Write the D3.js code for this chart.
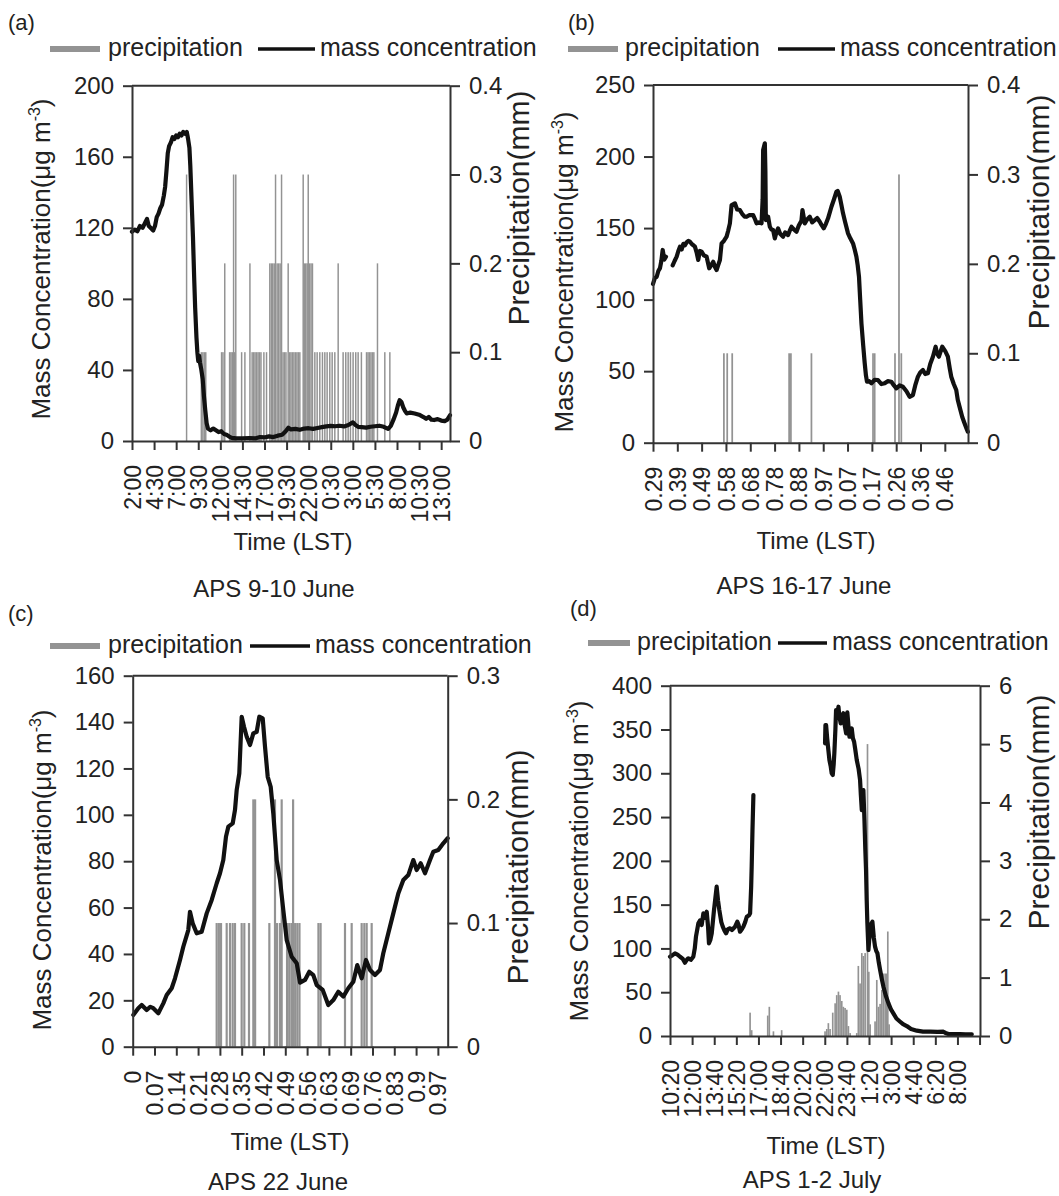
<!DOCTYPE html>
<html>
<head>
<meta charset="utf-8">
<script src="https://cdn.jsdelivr.net/npm/d3@7"></script>
<style>
  body { margin: 0; background: #fff; }
  svg text { font-family: "Liberation Sans", Arial, Helvetica, sans-serif; fill: #222; }
</style>
</head>
<body>
<svg id="chart" width="1059" height="1196"></svg>
<script>
// ---------- (a) APS 9-10 June : time in hours from 9 June 00:00 ----------
const aTicks = [2, 4.5, 7, 9.5, 12, 14.5, 17, 19.5, 22, 24.5, 27, 29.5, 32, 34.5, 37];
const aTickLabels = ["2:00","4:30","7:00","9:30","12:00","14:30","17:00","19:30","22:00","0:30","3:00","5:30","8:00","10:30","13:00"];
const aMassTicks = [0, 40, 80, 120, 160, 200];
const aRainTicks = [0, 0.1, 0.2, 0.3, 0.4];
const aRainTickLabels = ["0","0.1","0.2","0.3","0.4"];
const aMassTime = [2.0,2.3,2.6,2.9,3.2,3.5,3.7,3.9,4.1,4.4,4.6,4.8,5.0,5.2,5.4,5.6,5.75,5.9,6.05,6.2,6.4,6.6,6.8,7.0,7.2,7.4,7.6,7.8,8.0,8.2,8.35,8.5,8.6,8.75,8.9,9.05,9.15,9.3,9.4,9.5,9.6,9.7,9.85,10.0,10.15,10.3,10.45,10.6,10.9,11.2,11.5,11.8,12.1,12.4,12.7,13.0,13.3,13.8,14.5,15.3,16.0,16.5,17.0,17.5,18.0,18.5,19.0,19.4,19.7,20.0,20.5,21.0,21.5,22.0,22.5,23.0,23.5,24.0,24.5,25.0,25.5,26.0,26.5,27.0,27.3,27.6,28.0,28.5,29.0,29.5,30.0,30.5,31.0,31.3,31.6,31.9,32.1,32.3,32.5,32.7,32.9,33.1,33.5,34.0,34.5,35.0,35.3,35.6,35.9,36.2,36.6,37.0,37.4,37.7,38.0];
const aMass = [117.8,119,118,121,120,123,125,121,120,118.5,121,126,128,131,133,138,143,152,162,166,168,171,170,172,171,173,172,174,173,174,170,165,155,135,115,90,75,58,50,45,48,44,40,35,25,17,10,7,6,7,6,5,5.5,4,3.5,2.5,1.8,1.5,1.5,1.7,1.5,2.2,2.0,2.6,2.2,3.0,3.5,5.5,7.5,6.5,6.8,6.3,7.0,7.2,6.8,7.3,7.8,8.2,8.5,8.3,8.6,8.2,9.0,10.5,9.0,8.0,7.8,7.5,8.0,8.3,8.6,8.0,6.8,8.5,12,16,20,23,22,19,17,15.5,16,15.5,14.8,13.5,12.5,13.5,12,11.8,12.3,11.5,11.2,12,14.5];
const aRainTime = [8.18,9.85,10.02,10.18,10.35,12.14,12.3,12.5,13.05,13.2,13.35,13.5,13.62,13.75,14.41,14.78,15.35,15.6,15.77,15.93,16.1,16.27,16.43,16.6,16.93,17.23,17.6,17.77,17.93,18.1,18.25,18.43,18.6,18.77,18.93,19.1,19.27,19.43,19.68,19.85,20.0,20.17,20.33,20.5,20.67,20.83,21.0,21.38,21.5,21.67,21.83,21.95,22.1,22.27,22.43,22.7,22.96,23.26,23.56,23.83,24.09,24.39,24.66,24.96,25.34,25.9,26.2,26.47,26.73,27.03,27.33,27.6,27.97,28.55,28.72,28.88,29.05,29.22,29.38,29.79,30.62,31.19];
const aRain = [0.3,0.1,0.1,0.1,0.1,0.1,0.1,0.2,0.1,0.1,0.1,0.3,0.1,0.3,0.1,0.1,0.2,0.1,0.1,0.1,0.1,0.1,0.1,0.1,0.1,0.1,0.2,0.2,0.2,0.2,0.3,0.2,0.2,0.2,0.3,0.1,0.1,0.1,0.2,0.1,0.1,0.1,0.1,0.1,0.1,0.1,0.1,0.3,0.2,0.2,0.2,0.3,0.2,0.2,0.2,0.1,0.1,0.1,0.1,0.1,0.1,0.1,0.1,0.1,0.2,0.1,0.1,0.1,0.1,0.1,0.1,0.1,0.1,0.1,0.1,0.1,0.1,0.1,0.1,0.2,0.1,0.1];

// ---------- (b) APS 16-17 June : time as fraction of day (16 June = 0) ----------
const bTicks = [0.2917,0.3889,0.4861,0.5833,0.6806,0.7778,0.875,0.9722,1.0694,1.1667,1.2639,1.3611,1.4583];
const bTickLabels = ["0.29","0.39","0.49","0.58","0.68","0.78","0.88","0.97","0.07","0.17","0.26","0.36","0.46"];
const bMassTicks = [0, 50, 100, 150, 200, 250];
const bRainTicks = [0, 0.1, 0.2, 0.3, 0.4];
const bRainTickLabels = ["0","0.1","0.2","0.3","0.4"];
const bMassTime = [0.2918,0.2990,0.3065,0.3130,0.3196,0.3250,0.3304,0.3370,0.3436,0.3500,0.3703,0.3780,0.3863,0.3930,0.3995,0.4060,0.4130,0.4194,0.4260,0.4330,0.4394,0.4460,0.4530,0.4593,0.4660,0.4726,0.4790,0.4860,0.4950,0.5060,0.5164,0.5240,0.5324,0.5390,0.5459,0.5520,0.5592,0.5659,0.5750,0.5859,0.5920,0.5991,0.6059,0.6191,0.6280,0.6390,0.6480,0.6580,0.6658,0.6760,0.6921,0.7000,0.7057,0.7150,0.7256,0.7300,0.7320,0.7388,0.7410,0.7428,0.7520,0.7588,0.7650,0.7719,0.7787,0.7850,0.7919,0.8000,0.8118,0.8200,0.8317,0.8380,0.8454,0.8550,0.8653,0.8750,0.8850,0.8893,0.8985,0.9080,0.9185,0.9280,0.9384,0.9480,0.9583,0.9660,0.9743,0.9830,0.9915,1.0050,1.0150,1.0250,1.0300,1.0382,1.0450,1.0514,1.0600,1.0714,1.0800,1.0913,1.0980,1.1049,1.1100,1.1152,1.1200,1.1250,1.1320,1.1381,1.1430,1.1472,1.1560,1.1648,1.1780,1.1911,1.2050,1.2179,1.2300,1.2446,1.2550,1.2646,1.2780,1.2909,1.3050,1.3176,1.3308,1.3400,1.3508,1.3600,1.3707,1.3800,1.3907,1.4000,1.4107,1.4215,1.4280,1.4347,1.4420,1.4481,1.4600,1.4706,1.4780,1.4840,1.4940,1.5040,1.5100,1.5171,1.5280,1.5371,1.5450,1.5503];
const bMass = [111,115,116,120,122,127,134.7,128,130,null,124,127,130,134,137,135,139,138,140,141,140.5,139,138,137,133,127.7,134,133.5,131,130,121.9,124,126.5,123,120.7,124,127.7,139.3,141,144,148,153.3,166.1,167.3,163,162.6,160,158,157.9,159,159.1,156,153.3,154,153.3,170,204.5,209.2,190,155.6,157.9,150.9,149,148.6,142.8,147,149.8,146,144,147,145.1,148,150.9,149,147.4,152,155,162.6,153.3,156,157.9,154,155.6,157,154.4,152,149.8,153,156.8,164.9,170,175.4,176,171.9,166,160.3,154,146.3,143,139.3,135,130,124,116,100,83.4,68,55.5,47,42.6,43,41.5,44,43.8,41,41.5,43,42.6,40,38,40,39.1,36,32.1,33.3,40,46.1,49,50.8,48,48.5,55,60.1,67.1,62,60.1,64,67.1,64,60.1,52,46.1,41,36.8,30,25.2,18,13.6,10,7.7];
const bRainTime = [0.5751,0.5884,0.6084,0.8359,0.8430,0.9251,1.1713,1.1779,1.2591,1.2751,1.2844];
const bRain = [0.1,0.1,0.1,0.1,0.1,0.1,0.1,0.1,0.1,0.3,0.1];

// ---------- (c) APS 22 June : time as fraction of day ----------
const cTicks = [0,0.0694,0.1389,0.2083,0.2778,0.3472,0.4167,0.4861,0.5556,0.625,0.6944,0.7639,0.8333,0.9028,0.9722];
const cTickLabels = ["0","0.07","0.14","0.21","0.28","0.35","0.42","0.49","0.56","0.63","0.69","0.76","0.83","0.9","0.97"];
const cMassTicks = [0, 20, 40, 60, 80, 100, 120, 140, 160];
const cRainTicks = [0, 0.1, 0.2, 0.3];
const cRainTickLabels = ["0","0.1","0.2","0.3"];
const cMassTime = [0.0019,0.0178,0.0287,0.0446,0.0560,0.0656,0.0816,0.0975,0.1083,0.1242,0.1348,0.1507,0.1612,0.1771,0.1825,0.1911,0.2039,0.2198,0.2357,0.2517,0.2676,0.2781,0.2886,0.2972,0.3046,0.3186,0.3259,0.3313,0.3396,0.3472,0.3546,0.3632,0.3737,0.3842,0.3950,0.4033,0.4142,0.4215,0.4301,0.4396,0.4479,0.4588,0.4693,0.4798,0.4906,0.5065,0.5225,0.5330,0.5489,0.5626,0.5754,0.5862,0.6053,0.6231,0.6391,0.6550,0.6709,0.6868,0.7028,0.7155,0.7295,0.7432,0.7560,0.7719,0.7878,0.7983,0.8143,0.8302,0.8461,0.8621,0.8780,0.8939,0.9047,0.9175,0.9312,0.9471,0.9576,0.9735,0.9895,1.0035];
const cMass = [13.7,16.6,18.0,15.8,17.2,16.6,14.4,18.7,22.3,25.2,29.5,37.4,43.1,50.3,58.2,53.2,48.9,49.6,57.5,63.3,70.5,74.8,80.5,90.6,94.9,96.3,102.1,110.7,117.9,142.3,138,133.7,130.1,135.1,135.8,142.3,141.6,129.4,116.4,112.1,100.6,80.5,71.9,58.9,46,38.8,36,27.6,28.8,32.3,30.9,26.6,24.5,18,20.1,23.7,21.6,25.2,28,35.2,29.5,37.4,33.1,30.9,33.1,40.3,48.9,57.5,66.1,71.9,74,80.5,76.2,79.1,74.8,80.5,84.1,84.8,87.7,89.9];
const cRainTime = [0.2675,0.2745,0.2814,0.2994,0.3100,0.3185,0.3259,0.3471,0.3556,0.3705,0.3843,0.3900,0.4353,0.4533,0.4600,0.4693,0.4746,0.4917,0.4986,0.5056,0.5110,0.5175,0.5244,0.5313,0.5917,0.5986,0.6763,0.6976,0.7294,0.7379,0.7454,0.7613];
const cRain = [0.1,0.1,0.1,0.1,0.1,0.1,0.1,0.1,0.1,0.1,0.2,0.2,0.1,0.2,0.1,0.1,0.2,0.1,0.1,0.1,0.2,0.1,0.1,0.1,0.1,0.1,0.1,0.1,0.1,0.1,0.1,0.1];

// ---------- (d) APS 1-2 July : time in hours from 1 July 00:00 ----------
const dTicks = [10.333,12,13.667,15.333,17,18.667,20.333,22,23.667,25.333,27,28.667,30.333,32,33.667];
const dTickLabels = ["10:20","12:00","13:40","15:20","17:00","18:40","20:20","22:00","23:40","1:20","3:00","4:40","6:20","8:00",""];
const dMassTicks = [0, 50, 100, 150, 200, 250, 300, 350, 400];
const dRainTicks = [0, 1, 2, 3, 4, 5, 6];
const dRainTickLabels = ["0","1","2","3","4","5","6"];
const dMassTime = [10.333,10.5,10.71,10.9,11.09,11.3,11.46,11.6,11.71,11.9,12.09,12.2,12.29,12.47,12.6,12.72,12.85,13.0,13.1,13.2,13.27,13.38,13.48,13.65,13.85,13.95,14.05,14.2,14.31,14.45,14.56,14.7,14.86,15.0,15.24,15.41,15.5,15.61,15.75,15.86,16.0,16.12,16.3,16.37,16.45,16.49,16.55,16.62,16.7,22.02,22.05,22.1,22.18,22.27,22.35,22.45,22.52,22.6,22.67,22.72,22.8,22.85,22.95,23.03,23.1,23.2,23.3,23.4,23.5,23.61,23.7,23.78,23.86,23.95,24.03,24.12,24.21,24.3,24.41,24.55,24.66,24.72,24.79,24.85,24.91,24.99,25.05,25.11,25.16,25.21,25.29,25.35,25.42,25.5,25.59,25.7,25.79,25.88,25.97,26.07,26.17,26.3,26.42,26.6,26.8,27.0,27.17,27.4,27.68,27.9,28.18,28.5,28.94,29.4,29.94,30.5,30.94,31.1,31.32,31.8,32.2,32.6,33.08];
const dMass = [90.5,92,94.4,93,90.5,88,83.7,87,88.7,87,90.5,100,113.4,128.7,132,126.7,140.1,135,141.9,125,105.8,110,117.3,143.9,170.5,155,143.9,130,124.8,120,117.3,122,123,121,124.8,130.5,127,119.1,122,124.8,130,136.2,138,140.1,170,193.3,235,275.2,null,334.2,355.1,355,340,326.6,315,307.5,300,298,310,322.8,350,372.2,368,376,365,357,366,368.5,355,345.6,369.6,355,341.7,348,351.3,340,336,327,315.1,305,292.3,275,258,272,280.9,246.6,215,189.5,155,128.7,98.2,110,117.3,128,130.5,112,102,97,94.4,84,75.4,65,56.3,46,37.3,30,25.9,20,16.3,13.5,11.4,8,6.1,5,4.9,4.8,4.9,3.5,2.3,2.3,2.3,2.0,1.9];
const dRainTime = [16.37,16.49,17.7,17.82,18.13,18.75,22.02,22.15,22.27,22.4,22.6,22.78,22.9,23.03,23.15,23.28,23.4,23.53,23.66,23.78,23.91,24.41,24.53,24.66,24.79,24.91,25.04,25.22,25.32,25.42,25.79,25.92,26.05,26.17,26.3,26.42,26.55,26.67,26.75,26.85];
const dRain = [0.4,0.1,0.35,0.5,0.08,0.1,0.08,0.12,0.22,0.12,0.4,0.56,0.7,0.76,0.7,0.6,0.5,0.48,0.45,0.17,0.05,0.05,1.2,0.9,1.42,1.37,1.42,5.0,1.1,0.2,0.25,0.96,0.5,0.55,0.79,1.07,1.07,1.07,1.79,0.2];

// ---------- panel layout ----------
const panels = [
  { tag: "(a)", tagPos: [8, 30], title: "APS 9-10 June", titlePos: [274, 597], xTitlePos: [293, 550],
    box: { x0: 132, x1: 450, y0: 85.7, y1: 441 }, xDomain: [2, 38], barW: 1 / 6,
    xTicks: aTicks, xLabels: aTickLabels, massTicks: aMassTicks, massMax: 200,
    rainTicks: aRainTicks, rainLabels: aRainTickLabels, rainMax: 0.4,
    massT: aMassTime, mass: aMass, rainT: aRainTime, rain: aRain,
    yTitle: [50, 259], rTitle: [529, 208],
    legend: { y: 49, gray: [50, 100], grayText: 108, black: [258, 315], blackText: 320 } },
  { tag: "(b)", tagPos: [568, 30], title: "APS 16-17 June", titlePos: [804, 594], xTitlePos: [816, 549],
    box: { x0: 653, x1: 968, y0: 85, y1: 442.7 }, xDomain: [0.2917, 1.551], barW: 1 / 144,
    xTicks: bTicks, xLabels: bTickLabels, massTicks: bMassTicks, massMax: 250,
    rainTicks: bRainTicks, rainLabels: bRainTickLabels, rainMax: 0.4,
    massT: bMassTime, mass: bMass, rainT: bRainTime, rain: bRain,
    yTitle: [573, 272], rTitle: [1049, 212],
    legend: { y: 49, gray: [568, 618], grayText: 625, black: [778, 835], blackText: 840 } },
  { tag: "(c)", tagPos: [8, 621], title: "APS 22 June", titlePos: [278, 1190], xTitlePos: [290, 1150],
    box: { x0: 132.7, x1: 447.7, y0: 675.7, y1: 1046.7 }, xDomain: [0, 1.0035], barW: 1 / 144,
    xTicks: cTicks, xLabels: cTickLabels, massTicks: cMassTicks, massMax: 160,
    rainTicks: cRainTicks, rainLabels: cRainTickLabels, rainMax: 0.3,
    massT: cMassTime, mass: cMass, rainT: cRainTime, rain: cRain,
    yTitle: [51, 870], rTitle: [528, 867],
    legend: { y: 646, gray: [50, 100], grayText: 108, black: [250, 310], blackText: 315 } },
  { tag: "(d)", tagPos: [570, 616], title: "APS 1-2 July", titlePos: [812, 1188], xTitlePos: [826, 1154],
    box: { x0: 670, x1: 980, y0: 685.7, y1: 1036 }, xDomain: [10.333, 33.7], barW: 0.125,
    xTicks: dTicks, xLabels: dTickLabels, massTicks: dMassTicks, massMax: 400,
    rainTicks: dRainTicks, rainLabels: dRainTickLabels, rainMax: 6,
    massT: dMassTime, mass: dMass, rainT: dRainTime, rain: dRain,
    yTitle: [588, 861], rTitle: [1049, 812],
    legend: { y: 643, gray: [588, 630], grayText: 637, black: [778, 827], blackText: 832 } }
];

const svg = d3.select("#chart");
const AXIS = "#333", BAR = "#939393", LINE = "#111";

function styleAxis(g) {
  g.selectAll("path.domain").attr("stroke", AXIS).attr("stroke-width", 2);
  g.selectAll(".tick line").attr("stroke", AXIS).attr("stroke-width", 2);
  g.selectAll(".tick text").attr("fill", "#222").style("font-size", "24px");
}

function drawPanel(p) {
  const g = svg.append("g");
  const { x0, x1, y0, y1 } = p.box;
  const x = d3.scaleLinear().domain(p.xDomain).range([x0, x1]);
  const y = d3.scaleLinear().domain([0, p.massMax]).range([y1, y0]);
  const r = d3.scaleLinear().domain([0, p.rainMax]).range([y1, y0]);

  // precipitation bars
  const bw = x(p.xDomain[0] + p.barW) - x(p.xDomain[0]);
  g.append("g").selectAll("rect")
    .data(d3.zip(p.rainT, p.rain))
    .join("rect")
    .attr("x", d => x(d[0]) - bw / 2)
    .attr("y", d => r(d[1]))
    .attr("width", bw)
    .attr("height", d => r(0) - r(d[1]))
    .attr("fill", BAR);

  // mass concentration line
  const line = d3.line().defined(d => d[1] != null).x(d => x(d[0])).y(d => y(d[1]));
  g.append("path")
    .datum(d3.zip(p.massT, p.mass))
    .attr("d", line)
    .attr("fill", "none")
    .attr("stroke", LINE)
    .attr("stroke-width", 4.2)
    .attr("stroke-linejoin", "round")
    .attr("stroke-linecap", "round");

  // frame top
  g.append("line").attr("x1", x0).attr("x2", x1).attr("y1", y0).attr("y2", y0)
    .attr("stroke", AXIS).attr("stroke-width", 2);

  // left axis
  g.append("g").attr("transform", `translate(${x0},0)`)
    .call(d3.axisLeft(y).tickValues(p.massTicks).tickSize(9).tickPadding(9).tickSizeOuter(0).tickFormat(d3.format("d")))
    .call(styleAxis);

  // right axis
  g.append("g").attr("transform", `translate(${x1},0)`)
    .call(d3.axisRight(r).tickValues(p.rainTicks).tickSize(10).tickPadding(9).tickSizeOuter(0)
      .tickFormat((d, i) => p.rainLabels[i]))
    .call(styleAxis);

  // bottom axis with vertical time labels
  const bx = g.append("g").attr("transform", `translate(0,${y1})`)
    .call(d3.axisBottom(x).tickValues(p.xTicks).tickSize(9).tickSizeOuter(0)
      .tickFormat((d, i) => p.xLabels[i]))
    .call(styleAxis);
  bx.selectAll(".tick text")
    .style("font-size", "23px")
    .attr("transform", "rotate(-90)")
    .attr("text-anchor", "end")
    .attr("x", -24).attr("y", 0).attr("dy", "0.35em");

  // axis titles
  const yt = g.append("text")
    .attr("transform", `translate(${p.yTitle[0]},${p.yTitle[1]}) rotate(-90)`)
    .attr("text-anchor", "middle").style("font-size", "26px");
  yt.append("tspan").text("Mass Concentration(\u03bcg m");
  yt.append("tspan").attr("dy", -10).style("font-size", "16px").text("-3");
  yt.append("tspan").attr("dy", 10).text(")");

  g.append("text")
    .attr("transform", `translate(${p.rTitle[0]},${p.rTitle[1]}) rotate(-90)`)
    .attr("text-anchor", "middle").style("font-size", "30px")
    .text("Precipitation(mm)");

  g.append("text").attr("x", p.xTitlePos[0]).attr("y", p.xTitlePos[1])
    .attr("text-anchor", "middle").style("font-size", "24px").text("Time (LST)");
  g.append("text").attr("x", p.titlePos[0]).attr("y", p.titlePos[1])
    .attr("text-anchor", "middle").style("font-size", "24px").text(p.title);
  g.append("text").attr("x", p.tagPos[0]).attr("y", p.tagPos[1])
    .style("font-size", "22px").text(p.tag);

  // legend
  const L = p.legend;
  g.append("rect").attr("x", L.gray[0]).attr("y", L.y - 3)
    .attr("width", L.gray[1] - L.gray[0]).attr("height", 6).attr("fill", BAR);
  g.append("text").attr("x", L.grayText).attr("y", L.y + 7)
    .style("font-size", "25px").text("precipitation");
  g.append("line").attr("x1", L.black[0]).attr("x2", L.black[1])
    .attr("y1", L.y).attr("y2", L.y).attr("stroke", LINE).attr("stroke-width", 3.4);
  g.append("text").attr("x", L.blackText).attr("y", L.y + 7)
    .style("font-size", "25px").text("mass concentration");
}

panels.forEach(drawPanel);
</script>
</body>
</html>
